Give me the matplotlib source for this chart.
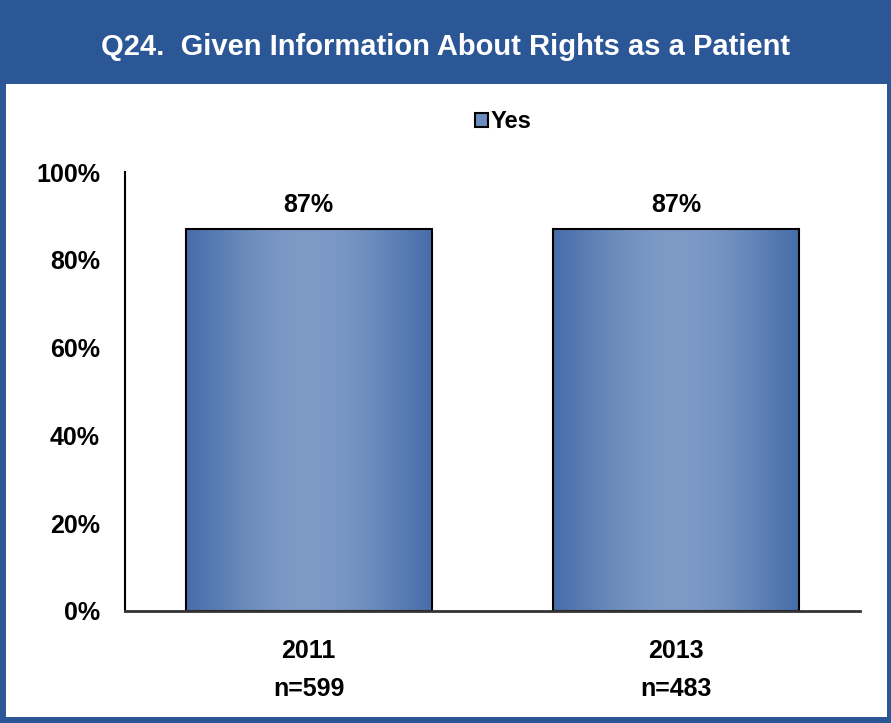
import numpy as np
import matplotlib.pyplot as plt
from matplotlib.patches import Rectangle
from matplotlib import font_manager

years = ['2011', '2013']
sample_sizes = ['n=599', 'n=483']
yes_pct = [87, 87]
series_name = 'Yes'
title = 'Q24.  Given Information About Rights as a Patient'

names = {f.name for f in font_manager.fontManager.ttflist}
narrow = 'Liberation Sans Narrow' if 'Liberation Sans Narrow' in names else 'Liberation Sans'
plt.rcParams['font.family'] = ['Liberation Sans', 'DejaVu Sans']

blue = '#2B5797'
fig = plt.figure(figsize=(8.91, 7.23), dpi=100, facecolor=blue)
fig.patches.append(Rectangle((6/891, 6/723), 881/891, 633/723,
                             transform=fig.transFigure, facecolor='white',
                             edgecolor='none', zorder=-10))
fig.text(0.5, 1 - 47/723, title, ha='center', va='center', color='white',
         fontsize=21, fontweight='bold', family=narrow)

ax = fig.add_axes([125/891, 112/723, 735/891, 439/723])
ax.set_facecolor('none')
x = np.arange(len(years))
bars = ax.bar(x, yes_pct, width=0.67, color='#6080B8', edgecolor='black',
              linewidth=1.5, label=series_name, zorder=3)

# horizontal gradient fill: dark edges, light centre
t = np.linspace(0, 1, 256)
w = np.sin(np.pi * t) ** 1.2
dark = np.array([0x48, 0x6E, 0xAA]) / 255
light = np.array([0x7E, 0x9B, 0xC6]) / 255
grad = (dark[None, :] * (1 - w[:, None]) + light[None, :] * w[:, None])[None, :, :]
for b in bars:
    bx, by, bw, bh = b.get_x(), b.get_y(), b.get_width(), b.get_height()
    im = ax.imshow(grad, extent=[bx, bx + bw, by, by + bh], aspect='auto',
                   zorder=2, interpolation='bicubic')
    im.set_clip_path(b)
    b.set_facecolor('none')
    ax.annotate(f'{b.get_height():.0f}%', (bx + bw / 2, by + bh),
                xytext=(0, 9), textcoords='offset points', ha='center',
                va='bottom', fontsize=18, fontweight='bold')

ax.set_xlim(-0.5, 1.5)
ax.set_ylim(0, 100)
ax.set_yticks(range(0, 101, 20))
ax.set_yticklabels([f'{v}%' for v in range(0, 101, 20)])
ax.set_xticks(x)
ax.set_xticklabels([f'{a}\n{b}' for a, b in zip(years, sample_sizes)],
                   linespacing=1.75)
for lab in ax.get_xticklabels() + ax.get_yticklabels():
    lab.set_fontsize(18)
    lab.set_fontweight('bold')
ax.tick_params(axis='both', length=0)
ax.tick_params(axis='y', pad=18)
ax.tick_params(axis='x', pad=20)
for s in ['top', 'right']:
    ax.spines[s].set_visible(False)
ax.spines['left'].set_linewidth(1.5)
ax.spines['bottom'].set_linewidth(2)
ax.spines['bottom'].set_color('#333333')
ax.spines['left'].set_zorder(4)
ax.spines['bottom'].set_zorder(4)

leg = ax.legend(loc='center', bbox_to_anchor=(503/891, 1 - 122/723),
                bbox_transform=fig.transFigure, frameon=False,
                handlelength=0.55, handleheight=0.55, handletextpad=0.1,
                prop={'size': 17, 'weight': 'bold'})
for h in leg.legend_handles:
    h.set_facecolor('#6C8BC0')
    h.set_edgecolor('black')

fig.savefig('out.png', dpi=100, facecolor=blue)
